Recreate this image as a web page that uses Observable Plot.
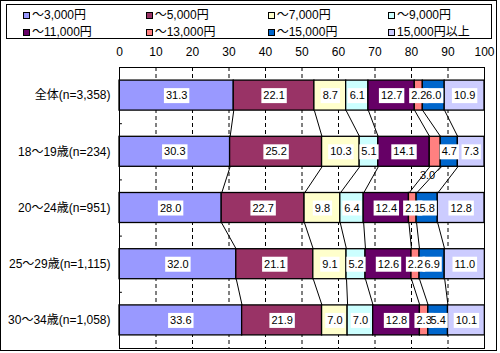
<!DOCTYPE html>
<html><head><meta charset="utf-8">
<script src="https://cdn.jsdelivr.net/npm/d3@7"></script>
<script src="https://cdn.jsdelivr.net/npm/@observablehq/plot@0.6"></script>
<style>
body{margin:0;background:#fff;}
#wrap{position:relative;width:500px;height:353px;font-family:"Liberation Sans","Noto Sans CJK JP",sans-serif;font-size:12px;color:#000;}
#outer{position:absolute;left:0;top:0;width:495px;height:349px;border:1px solid #000;pointer-events:none;}
#legend{position:absolute;left:6px;top:4px;width:484px;height:33px;border:1px solid #000;background:#fff;}
.item{position:absolute;font-size:12px;line-height:14px;height:14px;display:flex;align-items:center;white-space:nowrap;}
.sw{width:5px;height:5px;border:1px solid #000;margin-right:2px;flex:none;}
#chart{position:absolute;left:0;top:0;}
</style></head>
<body>
<div id="wrap"><div id="chart"></div><div id="legend"></div><div id="outer"></div></div>
<script>
const categories = ["全体(n=3,358)","18～19歳(n=234)","20～24歳(n=951)","25～29歳(n=1,115)","30～34歳(n=1,058)"];
const seriesNames = ["～3,000円","～5,000円","～7,000円","～9,000円","～11,000円","～13,000円","～15,000円","15,000円以上"];
const colors = ["#9999FF","#993366","#FFFFCC","#CCFFFF","#660066","#FF8080","#0066CC","#CCCCFF"];
const xTicks = [0,10,20,30,40,50,60,70,80,90,100];

const s3000  = [31.3, 30.3, 28.0, 32.0, 33.6];
const s5000  = [22.1, 25.2, 22.7, 21.1, 21.9];
const s7000  = [8.7, 10.3, 9.8, 9.1, 7.0];
const s9000  = [6.1, 5.1, 6.4, 5.2, 7.0];
const s11000 = [12.7, 14.1, 12.4, 12.6, 12.8];
const s13000 = [2.2, 3.0, 2.1, 2.2, 2.3];
const s15000 = [6.0, 4.7, 5.8, 6.9, 5.4];
const sOver  = [10.9, 7.3, 12.8, 11.0, 10.1];
const series = [s3000, s5000, s7000, s9000, s11000, s13000, s15000, sOver];

// labels placed outside the bar (category index, series index)
const outside = [{cat: 1, ser: 5}];

const H = 15 / 56.2; // half bar thickness in category units

const segs = [];
categories.forEach((c, i) => {
  let cum = 0;
  series.forEach((arr, k) => {
    segs.push({i, k, name: seriesNames[k], v: arr[i], x1: cum, x2: cum + arr[i]});
    cum += arr[i];
  });
});
const segAt = (i, k) => segs[i * series.length + k];

const links = [];
for (let i = 0; i < categories.length - 1; i++) {
  for (let k = 0; k < series.length - 1; k++) {
    links.push({x1: segAt(i, k).x2, y1: i + H, x2: segAt(i + 1, k).x2, y2: i + 1 - H});
  }
}

const inLabels = [], outLabels = [], leaders = [];
segs.forEach(d => {
  const o = outside.find(e => e.cat === d.i && e.ser === d.k);
  const lab = {x: (d.x1 + d.x2) / 2, y: d.i, text: d.v.toFixed(1)};
  if (o) {
    outLabels.push({x: lab.x - 2.1, y: d.i + 0.43, text: lab.text});
    leaders.push({x1: d.x2 + 0.2, y1: d.i + H, x2: d.x2 - 0.8, y2: d.i + H + 0.07});
  } else inLabels.push(lab);
});

const boundaries = categories.slice(1).map((c, i) => i + 0.5);

const font = '"Liberation Sans","Noto Sans CJK JP",sans-serif';
const plot = Plot.plot({
  width: 500, height: 353,
  marginLeft: 119, marginRight: 16, marginTop: 67, marginBottom: 5,
  style: {fontFamily: font, fontSize: "12px", color: "#000", background: "transparent", overflow: "visible"},
  x: {domain: [0, 100]},
  y: {domain: [-0.5, 4.5], range: [67, 348]},
  color: {domain: seriesNames, range: colors},
  marks: [
    Plot.ruleX(xTicks.slice(1, -1), {x: d => d, stroke: "#000", strokeDasharray: "4,3"}),
    Plot.ruleY(boundaries, {y: d => d, x1: 0, x2: 0.8, stroke: "#000"}),
    Plot.link(links, {x1: "x1", y1: "y1", x2: "x2", y2: "y2", stroke: "#000", strokeWidth: 1}),
    Plot.link(leaders, {x1: "x1", y1: "y1", x2: "x2", y2: "y2", stroke: "#000", strokeWidth: 1}),
    Plot.rect(segs, {x1: "x1", x2: "x2", y1: d => d.i - H, y2: d => d.i + H, fill: "name", stroke: "#000", strokeWidth: 1.3}),
    Plot.text(inLabels, {x: "x", y: "y", text: "text", fill: "#000", fontSize: 11, className: "seglabel"}),
    Plot.text(outLabels, {x: "x", y: "y", text: "text", fill: "#000", fontSize: 11}),
    Plot.frame({stroke: "#000"}),
    Plot.axisX({anchor: "top", ticks: xTicks, tickSize: 0, tickPadding: 12, tickFormat: d => String(d)}),
    Plot.axisY({ticks: categories.map((c, i) => i), tickSize: 0, tickPadding: 9, tickFormat: i => categories[i]})
  ]
});
document.getElementById("chart").append(plot);

// white boxes behind in-bar labels (all boxes first, then all texts on top)
const ns = "http://www.w3.org/2000/svg";
const labelGroup = plot.querySelector(".seglabel");
if (labelGroup) {
  const texts = Array.from(labelGroup.querySelectorAll("text"));
  const first = texts[0];
  texts.forEach(t => {
    const b = t.getBBox();
    const r = document.createElementNS(ns, "rect");
    r.setAttribute("x", b.x - 2);
    r.setAttribute("y", b.y - 1);
    r.setAttribute("width", b.width + 4);
    r.setAttribute("height", b.height + 3);
    r.setAttribute("fill", "#fff");
    if (t.getAttribute("transform")) r.setAttribute("transform", t.getAttribute("transform"));
    first.parentNode.insertBefore(r, first);
  });
}

// legend
const legend = document.getElementById("legend");
const colX = [16, 138.7, 260.7, 381];
const rowY = [3, 20];
seriesNames.forEach((n, k) => {
  const it = document.createElement("div");
  it.className = "item";
  it.style.left = colX[k % 4] + "px";
  it.style.top = rowY[Math.floor(k / 4)] + "px";
  const sw = document.createElement("span");
  sw.className = "sw";
  sw.style.background = colors[k];
  const tx = document.createElement("span");
  tx.textContent = n;
  it.append(sw, tx);
  legend.append(it);
});
</script>
</body></html>
